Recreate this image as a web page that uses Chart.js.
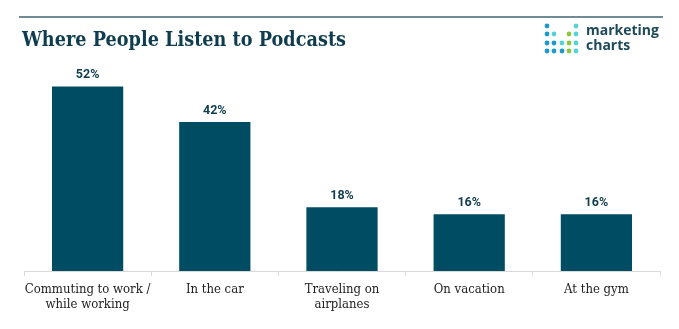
<!DOCTYPE html>
<html>
<head>
<meta charset="utf-8">
<script src="https://cdn.jsdelivr.net/npm/chart.js@4"></script>
<style>
  html, body { margin: 0; padding: 0; background: #fff; }
  #wrap { width: 679px; height: 329px; position: relative; }
</style>
</head>
<body>
<div id="wrap"><canvas id="chart"></canvas></div>
<script>
// data
const categories = [
  ['Commuting to work /', 'while working'],
  'In the car',
  ['Traveling on', 'airplanes'],
  'On vacation',
  'At the gym'
];
const shares = [52, 42, 18, 16, 16];
const chartTitle = 'Where People Listen to Podcasts';

const BAR = '#004c63';
const INK = '#0f3c4f';

// title, top rule and logo
const frame = {
  id: 'frame',
  beforeDraw(chart) {
    const { ctx } = chart;
    ctx.save();
    ctx.strokeStyle = '#3f6472';
    ctx.lineWidth = 1.5;
    ctx.beginPath();
    ctx.moveTo(19, 17);
    ctx.lineTo(663, 17);
    ctx.stroke();

    ctx.fillStyle = INK;
    ctx.font = 'bold 21px "DejaVu Serif"';
    ctx.textBaseline = 'middle';
    const w = ctx.measureText(chartTitle).width;
    ctx.save();
    ctx.translate(22, 41);
    ctx.scale(324 / w, 1);
    ctx.fillText(chartTitle, 0, 0);
    ctx.restore();

    // logo dots
    const blue = '#1b9bc8', teal = '#55d3da', green = '#8cc63f';
    const xs = [547, 554, 562, 569, 576];
    const ys = [26, 34, 43, 51];
    const grid = [
      [blue, null, null, null, teal],
      [blue, teal, null, green, teal],
      [blue, blue, teal, green, teal],
      [blue, blue, blue, green, teal]
    ];
    grid.forEach((row, r) => row.forEach((col, c) => {
      if (!col) return;
      ctx.fillStyle = col;
      ctx.beginPath();
      ctx.arc(xs[c], ys[r], 2.4, 0, Math.PI * 2);
      ctx.fill();
    }));
    ctx.fillStyle = '#1d4a5a';
    ctx.font = 'bold 14px "Open Sans"';
    ctx.textAlign = 'left';
    ctx.fillText('marketing', 586, 31);
    ctx.fillText('charts', 586, 46);
    ctx.restore();
  }
};

// value labels over the bars
const valueLabels = {
  id: 'valueLabels',
  afterDatasetsDraw(chart) {
    const { ctx } = chart;
    const meta = chart.getDatasetMeta(0);
    ctx.save();
    ctx.fillStyle = INK;
    ctx.font = 'bold 12.5px Roboto';
    ctx.textAlign = 'center';
    ctx.textBaseline = 'bottom';
    meta.data.forEach((bar, i) => {
      ctx.fillText(shares[i] + '%', bar.x, bar.y - 5);
    });
    ctx.restore();
  }
};

new Chart(document.getElementById('chart'), {
  type: 'bar',
  data: {
    labels: categories,
    datasets: [{
      data: shares,
      backgroundColor: BAR,
      borderWidth: 0,
      barPercentage: 0.56,
      categoryPercentage: 1
    }]
  },
  options: {
    responsive: true,
    maintainAspectRatio: false,
    animation: false,
    layout: { padding: { left: 24, right: 19, top: 58, bottom: 11 } },
    plugins: {
      legend: { display: false },
      title: { display: false },
      tooltip: { enabled: false }
    },
    scales: {
      x: {
        grid: {
          display: true,
          drawOnChartArea: false,
          drawTicks: true,
          tickLength: 5,
          color: '#d9d9d9',
          offset: true
        },
        border: { display: true, color: '#d9d9d9', dash: [2, 1] },
        ticks: {
          color: '#222',
          font: { family: '"DejaVu Serif Condensed", "DejaVu Serif"', size: 13, lineHeight: 1.15 },
          padding: 6,
          maxRotation: 0,
          autoSkip: false
        }
      },
      y: {
        display: false,
        min: 0,
        max: 60
      }
    }
  },
  plugins: [frame, valueLabels]
});
</script>
</body>
</html>
